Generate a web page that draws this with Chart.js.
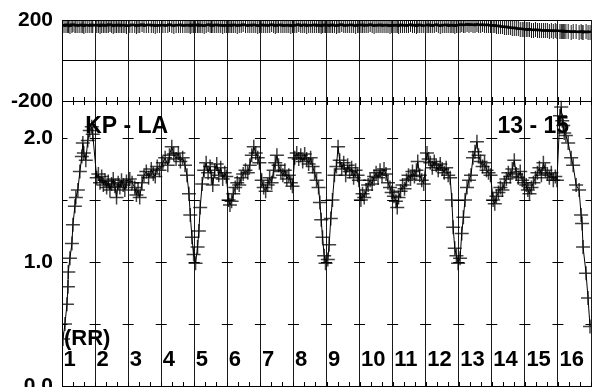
<!DOCTYPE html>
<html>
<head>
<meta charset="utf-8">
<script src="https://cdn.jsdelivr.net/npm/chart.js@4.4.1/dist/chart.umd.min.js"></script>
<style>
  html, body { margin: 0; padding: 0; background: #fff; overflow: hidden; }
  canvas { display: block; }
</style>
</head>
<body>
<canvas id="c" width="600" height="401"></canvas>
<script>
// ---- data ----
const segLabels = ['1','2','3','4','5','6','7','8','9','10','11','12','13','14','15','16'];
const panelTitle = 'KP - LA';
const rangeLabel = '13 - 15';
const unitLabel = '(RR)';
const ratioTickValues = [0, 0.5, 1.0, 1.5, 2.0];
const residTickValues = [-200, 0, 200];

const phaseX = [
  0.03,0.09,0.15,0.18,0.19,0.24,0.30,0.33,0.39,0.42,0.48,0.54,0.60,0.63,0.66,0.72,0.78,0.84,0.90,0.93,
  1.05,1.10,1.15,1.20,1.25,1.30,1.35,1.40,1.45,1.50,1.55,1.60,1.65,1.70,1.75,1.80,1.85,1.90,1.95,
  2.05,2.12,2.20,2.25,2.30,2.35,2.42,2.48,2.55,2.62,2.70,2.76,2.82,2.88,2.95,
  3.05,3.12,3.20,3.25,3.32,3.38,3.45,3.52,3.58,3.65,3.72,3.78,3.84,3.88,3.93,3.98,
  4.04,4.10,4.14,4.18,4.24,4.30,4.36,4.42,4.48,4.52,4.56,4.62,4.68,4.74,4.80,4.86,4.92,4.97,
  5.04,5.08,5.13,5.18,5.24,5.30,5.36,5.42,5.48,5.55,5.62,5.68,5.74,5.80,5.86,5.92,5.97,
  6.04,6.10,6.16,6.22,6.28,6.34,6.40,6.45,6.50,6.55,6.62,6.68,6.74,6.80,6.86,6.92,6.97,
  7.04,7.10,7.16,7.22,7.28,7.34,7.40,7.46,7.52,7.58,7.64,7.70,7.76,7.80,7.84,7.88,7.93,7.97,
  8.04,8.08,8.13,8.18,8.24,8.30,8.35,8.40,8.46,8.52,8.58,8.64,8.70,8.76,8.82,8.88,8.94,8.98,
  9.04,9.09,9.14,9.20,9.26,9.32,9.38,9.44,9.50,9.56,9.62,9.68,9.74,9.80,9.86,9.92,9.97,
  10.04,10.10,10.14,10.18,10.24,10.30,10.36,10.42,10.48,10.54,10.60,10.66,10.72,10.76,10.82,10.88,10.94,
  11.04,11.09,11.14,11.20,11.26,11.32,11.38,11.44,11.50,11.56,11.62,11.68,11.74,11.79,11.83,11.88,11.93,11.98,
  12.04,12.09,12.14,12.19,12.25,12.31,12.37,12.43,12.49,12.55,12.60,12.66,12.72,12.78,12.84,12.90,12.96,
  13.04,13.09,13.14,13.20,13.26,13.32,13.38,13.44,13.50,13.56,13.62,13.68,13.74,13.80,13.86,13.92,13.97,
  14.04,14.09,14.14,14.20,14.26,14.32,14.38,14.44,14.50,14.56,14.62,14.68,14.74,14.80,14.86,14.92,14.97,
  15.06,15.10,15.13,15.16,15.19,15.24,15.31,15.40,15.46,15.55,15.64,15.70,15.73,15.76,15.85,15.91,15.97
];

const ratioY = [
  0.38,0.50,0.66,0.80,0.92,1.03,1.15,1.30,1.45,1.52,1.58,1.73,1.85,1.96,1.88,1.82,1.98,2.06,2.09,2.03,
  1.68,1.71,1.64,1.69,1.62,1.66,1.60,1.65,1.58,1.63,1.67,1.61,1.52,1.64,1.60,1.66,1.62,1.58,1.65,
  1.67,1.64,1.60,1.54,1.58,1.52,1.64,1.70,1.73,1.68,1.75,1.71,1.69,1.77,1.74,
  1.80,1.84,1.78,1.86,1.93,1.87,1.83,1.88,1.81,1.84,1.78,1.70,1.55,1.38,1.20,1.06,
  0.99,1.12,1.25,1.44,1.63,1.74,1.80,1.72,1.77,1.68,1.62,1.74,1.79,1.70,1.76,1.67,1.72,1.69,
  1.50,1.46,1.49,1.55,1.60,1.64,1.62,1.68,1.71,1.74,1.72,1.78,1.86,1.93,1.88,1.84,1.80,
  1.66,1.60,1.57,1.62,1.68,1.64,1.74,1.80,1.86,1.78,1.73,1.70,1.74,1.67,1.70,1.64,1.61,
  1.84,1.88,1.83,1.86,1.81,1.87,1.83,1.79,1.84,1.77,1.72,1.66,1.60,1.48,1.34,1.20,1.05,0.99,
  1.02,1.14,1.35,1.50,1.70,1.77,1.93,1.82,1.75,1.80,1.70,1.78,1.73,1.76,1.68,1.74,1.70,1.66,
  1.50,1.55,1.52,1.58,1.62,1.66,1.63,1.69,1.72,1.68,1.74,1.70,1.75,1.71,1.64,1.60,1.56,
  1.53,1.49,1.44,1.52,1.57,1.62,1.59,1.66,1.70,1.67,1.73,1.69,1.74,1.81,1.70,1.66,1.63,
  1.88,1.83,1.80,1.76,1.81,1.78,1.74,1.79,1.75,1.72,1.76,1.70,1.68,1.50,1.28,1.11,1.05,0.99,
  1.03,1.23,1.36,1.50,1.60,1.66,1.70,1.84,1.89,1.97,1.86,1.81,1.77,1.80,1.74,1.72,1.70,
  1.50,1.47,1.53,1.56,1.60,1.58,1.64,1.67,1.72,1.69,1.75,1.82,1.71,1.68,1.73,1.66,1.64,
  1.62,1.58,1.55,1.60,1.64,1.68,1.72,1.76,1.70,1.80,1.74,1.71,1.68,1.72,1.66,1.69,1.66,
  2.18,2.25,2.14,2.10,2.04,2.02,1.96,1.84,1.78,1.62,1.58,1.38,1.31,1.12,0.91,0.71,0.48
];

const residY = [
  173,171,175,172,174,170,173,176,172,174,171,173,175,172,170,174,173,171,175,172,
  174,172,170,175,173,171,174,172,176,173,170,174,172,175,171,173,174,172,170,
  172,175,173,170,174,172,176,171,173,175,172,174,170,173,172,
  174,171,173,176,172,170,174,173,175,171,172,174,173,170,175,172,
  173,175,171,174,172,170,173,176,172,174,171,173,175,172,174,170,173,172,
  172,174,171,175,173,170,174,172,176,173,171,174,172,175,173,170,172,
  175,172,174,171,173,176,172,170,174,173,175,171,173,172,174,170,173,
  172,174,176,171,173,175,170,174,172,173,175,171,174,172,170,173,175,172,
  174,171,173,175,172,170,174,173,176,172,171,174,173,175,172,170,174,173,
  173,175,171,174,172,176,173,170,174,172,175,171,173,174,172,170,173,
  172,174,173,170,175,172,174,171,173,176,172,174,170,173,175,172,171,
  175,172,174,171,173,176,172,170,174,173,175,171,172,174,173,170,172,174,
  174,176,173,175,177,174,176,175,173,177,175,174,176,173,175,174,172,
  172,171,169,170,167,166,164,165,162,161,159,160,157,156,155,154,153,
  152,151,153,150,149,151,148,150,147,148,146,148,145,147,144,146,145,
  145,143,144,142,144,141,143,140,142,141,139,142,140,138,141,139,140
];

const xMin = 0, xMax = 16;
const ratioMin = 0, ratioMax = 2.3;
const residMin = -200, residMax = 200;

// ---- styling helpers ----
const FONT = '"Liberation Sans", Arial, Helvetica, sans-serif';

function makeErrSprite() {
  const c = document.createElement('canvas');
  c.width = 5; c.height = 15;
  const g = c.getContext('2d');
  g.fillStyle = 'rgba(0,0,0,0.9)';
  g.fillRect(2, 0, 1, 15);
  g.fillRect(0, 6, 5, 2);
  return c;
}
const errSprite = makeErrSprite();

const decoPlugin = {
  id: 'deco',
  beforeDatasetsDraw(chart) {
    const { ctx, chartArea: ca, scales } = chart;
    const x = scales.x, yb = scales.yb, yt = scales.yt;
    const al = v => Math.round(v) + 0.5;
    ctx.save();
    ctx.strokeStyle = '#000';
    ctx.lineWidth = 1;
    ctx.beginPath();
    ctx.moveTo(ca.left, al(yt.top)); ctx.lineTo(ca.right, al(yt.top));
    ctx.moveTo(ca.left, al(yt.bottom)); ctx.lineTo(ca.right, al(yt.bottom));
    ctx.stroke();
    ctx.beginPath();
    for (let k = xMin; k <= xMax; k++) {
      const px = x.getPixelForValue(k);
      for (const v of ratioTickValues) {
        if (v === ratioMin) continue;
        const py = al(yb.getPixelForValue(v));
        ctx.moveTo(Math.max(ca.left, px - 5.5), py);
        ctx.lineTo(Math.min(ca.right, px + 5.5), py);
      }
    }
    ctx.stroke();
    ctx.beginPath();
    const yMid = Math.round(yt.bottom), yBot = Math.round(yb.bottom);
    for (let k = 0; k <= (xMax - xMin) * 3; k++) {
      const px = al(x.getPixelForValue(xMin + k / 3));
      ctx.moveTo(px, yMid - 4); ctx.lineTo(px, yMid + 4);
      ctx.moveTo(px, yBot - 4); ctx.lineTo(px, yBot);
    }
    ctx.stroke();
    ctx.fillStyle = '#000';
    ctx.textBaseline = 'alphabetic';
    ctx.textAlign = 'left';
    ctx.font = 'bold 22px ' + FONT;
    segLabels.forEach((lab, i) => {
      ctx.fillText(lab, x.getPixelForValue(xMin + i) + 1.5, yb.getPixelForValue(0.161));
    });
    ctx.fillText(unitLabel, x.getPixelForValue(0.06), yb.getPixelForValue(0.33));
    ctx.font = 'bold 23px ' + FONT;
    ctx.fillText(panelTitle, x.getPixelForValue(0.70), yb.getPixelForValue(2.04));
    ctx.fillText(rangeLabel, x.getPixelForValue(13.17), yb.getPixelForValue(2.04));
    ctx.restore();
  }
};

const ratioData = phaseX.map((px, i) => ({ x: px, y: ratioY[i] }));
const residData = phaseX.map((px, i) => ({ x: px, y: residY[i] }));

new Chart(document.getElementById('c'), {
  type: 'line',
  data: {
    datasets: [
      {
        data: residData,
        yAxisID: 'yt',
        borderColor: '#000',
        borderWidth: 2,
        pointStyle: errSprite,
        pointRadius: 7,
        tension: 0
      },
      {
        data: ratioData,
        yAxisID: 'yb',
        borderColor: '#000',
        borderWidth: 1,
        pointStyle: 'cross',
        pointRadius: 7,
        pointBorderWidth: 1.5,
        pointBorderColor: 'rgba(0,0,0,0.75)',
        pointBackgroundColor: 'rgba(0,0,0,0)',
        tension: 0
      }
    ]
  },
  options: {
    responsive: false,
    animation: false,
    devicePixelRatio: 1,
    events: [],
    layout: { padding: { left: 0, right: 5, top: 20, bottom: 15 } },
    plugins: { legend: { display: false }, tooltip: { enabled: false } },
    scales: {
      x: {
        type: 'linear',
        min: xMin, max: xMax,
        ticks: { display: false, stepSize: 1 },
        grid: { color: '#1a1a1a', lineWidth: 1, drawTicks: false },
        border: { display: true, color: '#000', width: 1 }
      },
      yb: {
        type: 'linear',
        position: 'left',
        stack: 'panels',
        stackWeight: 285.2,
        min: ratioMin, max: ratioMax,
        afterBuildTicks: s => { s.ticks = ratioTickValues.map(v => ({ value: v })); },
        afterFit: s => { s.width = 62; },
        ticks: {
          padding: 9,
          color: '#000',
          font: { family: FONT, size: 21, weight: 'bold', lineHeight: 0.5 },
          callback: v => (Math.abs(v - Math.round(v)) < 1e-9 ? Number(v).toFixed(1) : '')
        },
        grid: { display: false, drawTicks: false },
        border: { display: true, color: '#000', width: 1 }
      },
      yt: {
        type: 'linear',
        position: 'left',
        stack: 'panels',
        stackWeight: 80.8,
        min: residMin, max: residMax,
        afterBuildTicks: s => { s.ticks = residTickValues.map(v => ({ value: v })); },
        afterFit: s => { s.width = 62; },
        ticks: {
          padding: 9,
          color: '#000',
          font: { family: FONT, size: 21, weight: 'bold', lineHeight: 0.5 },
          callback: v => (v === 0 ? '' : String(v))
        },
        grid: {
          drawTicks: false,
          lineWidth: 1,
          color: c => (c.tick && c.tick.value === 0 ? '#000' : 'rgba(0,0,0,0)')
        },
        border: { display: true, color: '#000', width: 1 }
      }
    }
  },
  plugins: [decoPlugin]
});
</script>
</body>
</html>
